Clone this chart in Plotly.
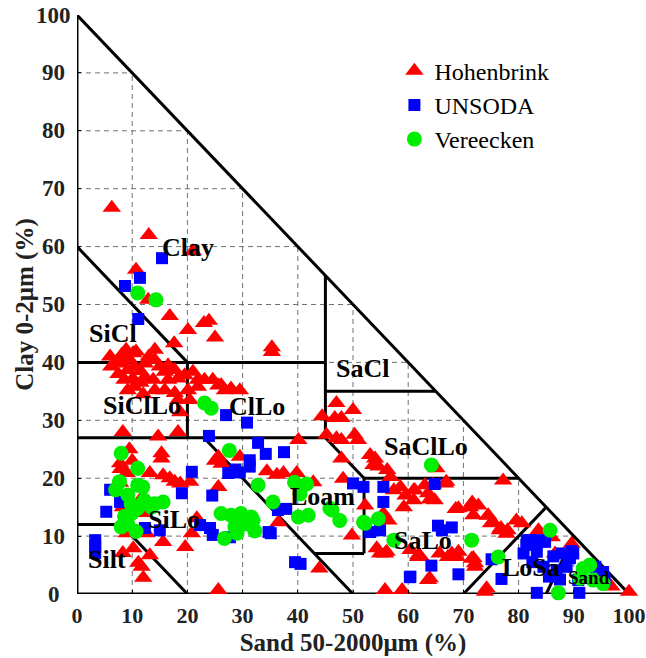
import plotly.graph_objects as go

# ---------------- data (sand %, clay %) ----------------
hoh_sand = [6.3, 13.0, 21.0, 10.7, 12.9, 16.8, 20.1, 23.0, 23.9, 25.0, 17.6, 35.3, 35.3,
            6.0, 7.0, 8.1, 8.9, 10.2, 10.7, 14.1, 6.2, 8.0, 9.2, 10.4, 12.3, 14.1, 15.0, 8.6, 10.1,
            12.3, 15.9, 17.7, 13.8, 16.5, 18.3, 19.5, 21.0, 21.9, 23.1, 24.6, 26.1, 27.9, 29.5,
            15.9, 17.7, 14.1, 10.4, 9.2, 18.3, 20.4, 20.1, 21.9, 11.5, 7.5, 9.5, 11.5, 13.0, 16.5,
            12.0, 25.6, 26.8,
            18.7, 18.3, 8.3, 14.7, 15.3, 15.3, 18.7, 20.5, 13.2, 15.6, 16.8, 17.7, 7.8, 7.9, 9.0,
            7.8, 6.9, 8.3, 11.4, 11.7, 12.6, 9.0, 8.3, 10.2, 11.1, 13.2, 11.7, 12.0, 15.6, 19.6,
            20.8, 21.7, 25.6, 25.6, 25.0, 26.2, 29.5, 25.6, 10.0, 9.5,
            47.0, 44.4, 46.7, 47.9, 50.0, 45.2, 47.0, 47.9, 50.3, 50.9, 40.1, 47.9, 53.1, 54.0,
            53.7, 54.6, 56.2, 48.2, 56.8, 58.6, 59.5, 61.0, 61.0, 57.4, 59.2, 34.4, 36.2, 37.4,
            39.8, 42.8, 52.2, 49.8, 56.4, 54.3, 55.8, 54.9, 43.9, 55.8, 58.9, 62.2, 60.4, 36.5,
            55.5, 56.1, 61.8, 63.6, 67.2, 68.8, 71.8, 72.1,
            65.1, 77.2, 66.9, 63.0, 61.2, 63.6, 64.8, 69.1, 71.2, 72.7, 71.8, 74.5, 75.4, 76.6,
            77.8, 79.6, 61.8, 65.7, 67.9, 69.1, 71.5, 72.1, 63.9, 74.2, 73.9, 64.5, 66.7, 63.9,
            68.6, 71.6, 74.4, 75.0, 76.8, 78.0,
            80.6, 83.6, 86.0, 86.6, 82.7, 100.0, 89.6, 94.7, 96.8, 85.1]
hoh_clay = [66.7, 62.0, 59.2, 56.0, 50.8, 48.0, 45.6, 46.8, 47.2, 44.3, 43.3, 42.6, 41.8,
            41.0, 40.0, 41.3, 42.2, 41.6, 41.9, 42.2, 39.3, 39.8, 38.7, 39.3, 39.8, 40.4, 39.3, 37.0, 37.2,
            37.5, 38.4, 38.7, 37.0, 37.0, 37.2, 37.8, 38.4, 37.0, 37.0, 37.0, 36.1, 35.5, 35.2,
            35.2, 34.7, 35.2, 35.8, 35.2, 33.5, 33.5, 35.2, 35.8, 36.5, 38.0, 40.5, 38.5, 41.0, 39.5,
            34.5, 36.0, 35.2,
            31.4, 28.0, 28.0, 27.2, 24.3, 23.4, 19.1, 19.4, 20.9, 20.5, 20.0, 19.4, 22.6, 21.6, 20.9,
            19.2, 18.5, 15.0, 16.2, 14.0, 10.5, 10.5, 7.1, 7.9, 5.4, 6.7, 4.7, 2.8, 9.0, 8.1,
            10.5, 13.1, 18.5, 23.7, 23.0, 22.5, 23.7, 0.7, 23.0, 25.0,
            33.0, 30.7, 30.4, 30.4, 31.8, 27.5, 26.9, 26.6, 27.5, 26.6, 26.6, 23.4, 24.0, 23.4,
            22.3, 22.0, 21.4, 19.9, 20.2, 18.5, 17.0, 17.9, 16.2, 17.9, 15.0, 21.2, 20.6, 20.9,
            20.9, 19.3, 15.3, 10.1, 12.7, 7.9, 7.0, 7.0, 4.4, 0.7, 0.7, 6.5, 7.6, 12.4,
            13.9, 7.3, 6.4, 2.4, 6.4, 6.4, 6.2, 4.7,
            21.7, 19.6, 19.4, 18.8, 17.9, 17.4, 16.2, 14.8, 15.0, 15.3, 13.6, 13.6, 12.4, 11.0,
            10.4, 12.7, 6.7, 7.0, 7.0, 7.3, 6.1, 5.3, 2.7, 1.0, 0.4, 18.9, 19.1, 16.3,
            14.7, 15.8, 13.5, 12.2, 11.4, 11.0,
            12.2, 11.0, 9.8, 7.0, 9.3, 0.4, 8.7, 2.4, 1.3, 9.9]

uns_sand = [15.4, 8.7, 11.4, 11.1, 27.0, 30.8, 23.9, 32.8, 34.2, 37.5, 27.4, 28.7, 31.3, 31.3,
            29.5, 20.8, 19.0, 24.5, 5.3, 6.0, 7.8, 3.3, 3.3, 3.3, 12.3, 15.0, 22.3, 24.1, 24.6,
            27.7, 35.1, 39.5, 40.5, 36.4, 37.9, 50.0, 51.9, 55.5, 55.5, 34.7, 54.9, 53.1, 60.4,
            64.8, 65.4, 67.9, 64.2, 69.1, 75.1, 76.9, 81.4, 81.5, 84.8, 80.9, 83.3, 86.3, 87.8,
            89.3, 89.6, 84.5, 86.9, 88.7, 90.8, 95.3, 95.6, 83.3, 93.9, 82.1, 83.9, 89.9, 91.0,
            85.5, 87.5, 82.5, 66.1, 60.3]
uns_clay = [58.0, 53.2, 54.6, 47.5, 30.9, 29.6, 27.3, 26.1, 24.2, 24.5, 20.9, 21.5, 22.0, 23.1,
            21.0, 21.1, 17.4, 17.0, 14.2, 18.0, 15.9, 9.3, 7.1, 8.2, 11.4, 11.0, 11.9, 11.4, 10.2,
            9.8, 10.5, 5.5, 5.2, 14.5, 14.7, 19.1, 18.5, 18.5, 15.9, 10.7, 11.0, 10.7, 3.0,
            19.0, 11.8, 11.5, 4.9, 3.4, 6.0, 2.6, 8.5, 9.3, 9.0, 7.0, 7.3, 6.5, 7.0,
            6.2, 7.4, 4.7, 4.1, 4.7, 2.4, 3.8, 2.4, 0.2, 4.7, 9.3, 9.3, 7.0, 0.2,
            3.0, 2.5, 5.5, 11.0, 2.9]

ver_sand = [11.0, 14.3, 23.1, 24.3, 8.0, 11.0, 7.7, 11.0, 9.2, 11.9, 9.8, 12.2, 14.1, 15.6,
            11.0, 8.6, 8.0, 10.7, 9.2, 13.5, 7.0, 10.0, 26.1, 27.9, 29.7, 31.6, 26.7, 28.6, 30.4,
            32.2, 29.0, 27.6, 32.8, 35.5, 39.4, 41.6, 40.4, 40.1, 41.9, 45.8, 47.6, 46.2, 51.9,
            54.6, 52.2, 57.4, 64.2, 71.5, 76.3, 85.7, 91.7, 92.9, 91.1, 93.5, 95.3, 87.2, 31.9]
ver_clay = [52.0, 50.8, 33.0, 32.1, 24.3, 21.7, 19.4, 18.8, 17.1, 18.5, 15.6, 16.2, 15.6, 15.9,
            14.8, 13.4, 11.6, 10.8, 12.1, 15.0, 18.0, 14.0, 13.9, 13.6, 13.9, 13.3, 9.6, 11.6, 12.1,
            10.9, 10.5, 24.8, 18.8, 15.9, 19.3, 19.0, 17.3, 13.3, 13.6, 14.8, 12.7, 14.5, 12.4,
            13.0, 12.2, 9.3, 22.3, 9.3, 6.4, 11.0, 4.4, 5.0, 2.7, 2.4, 1.8, 0.2, 12.7]

# texture class boundaries (sand, clay) segments
boundaries = [
    ((0, 0), (0, 100)), ((0, 0), (100, 0)), ((0, 100), (100, 0)),
    ((0, 60), (20, 40)), ((0, 40), (45, 40)), ((45, 55), (45, 27)), ((45, 35), (65, 35)),
    ((20, 40), (20, 27)), ((0, 27), (45, 27)), ((45, 27), (52, 20)), ((52, 20), (80, 20)),
    ((52, 20), (52, 7)), ((43, 7), (52, 7)), ((23, 27), (50, 0)), ((0, 12), (8, 12)),
    ((8, 12), (20, 0)), ((70, 0), (85, 15)), ((85, 0), (90, 10)),
]
class_names = ["Clay", "SiCl", "SiClLo", "ClLo", "SaCl", "SaClLo", "Loam", "SiLo", "Silt",
               "SaLo", "LoSa", "Sand"]
class_sand = [20.1, 6.6, 11.8, 32.6, 51.7, 63.3, 44.4, 17.6, 5.4, 62.7, 82.2, 92.8]
class_clay = [59.8, 45.0, 32.5, 32.3, 39.0, 25.4, 16.8, 12.8, 5.9, 9.3, 4.5, 2.8]
ticks = list(range(0, 101, 10))
tick_labels = [str(t) for t in ticks]

SERIF = "Liberation Serif"

fig = go.Figure()
fig.add_trace(go.Scatter(x=hoh_sand, y=hoh_clay, mode="markers", name="Hohenbrink",
                         marker=dict(symbol="triangle-up", size=16, color="#ff0000"),
                         cliponaxis=False))
fig.add_trace(go.Scatter(x=uns_sand, y=uns_clay, mode="markers", name="UNSODA",
                         marker=dict(symbol="square", size=12, color="#0000ff"),
                         cliponaxis=False))
fig.add_trace(go.Scatter(x=ver_sand, y=ver_clay, mode="markers", name="Vereecken",
                         marker=dict(symbol="circle", size=15, color="#00ee00"),
                         cliponaxis=False))

shapes = []
for v in ticks[1:-1]:
    shapes.append(dict(type="line", xref="x", yref="y", x0=v, y0=0, x1=v, y1=100 - v,
                       line=dict(color="#707070", width=1, dash="5px,4px"), layer="below"))
    shapes.append(dict(type="line", xref="x", yref="y", x0=0, y0=v, x1=100 - v, y1=v,
                       line=dict(color="#707070", width=1, dash="5px,4px"), layer="below"))
for (a, b) in boundaries:
    shapes.append(dict(type="line", xref="x", yref="y", x0=a[0], y0=a[1], x1=b[0], y1=b[1],
                       line=dict(color="black", width=3), layer="below"))

annotations = []
for name, sx, cy in zip(class_names, class_sand, class_clay):
    annotations.append(dict(x=sx, y=cy, xref="x", yref="y", text=name, showarrow=False,
                            font=dict(family=SERIF, size=19 if name == "Sand" else 26,
                                      color="black", weight="bold")))
# y tick labels, centred in a column left of the axis (as in the original)
for t, lab in zip(ticks, tick_labels):
    annotations.append(dict(x=-0.0417, y=t, xref="paper", yref="y", text=lab,
                            showarrow=False, xanchor="center", yanchor="middle",
                            font=dict(family=SERIF, size=23, color="#222", weight="bold")))

fig.update_layout(
    width=646, height=658, autosize=False,
    margin=dict(l=77, r=17, t=15, b=64),
    plot_bgcolor="white", paper_bgcolor="white",
    shapes=shapes, annotations=annotations,
    showlegend=True,
    legend=dict(x=0.575, y=0.942, xanchor="left", yanchor="top",
                font=dict(family=SERIF, size=24, color="black"),
                bgcolor="rgba(0,0,0,0)", borderwidth=0, itemsizing="trace"),
)
fig.update_xaxes(range=[0, 100], tickvals=ticks, ticktext=tick_labels, automargin=False,
                 showgrid=False, zeroline=False, showline=False,
                 ticks="inside", ticklen=4, tickcolor="black",
                 ticklabeloverflow="allow", ticklabelstandoff=6,
                 tickfont=dict(family=SERIF, size=22, color="#222", weight="bold"),
                 title=dict(text="Sand 50-2000μm (%)", standoff=6,
                            font=dict(family=SERIF, size=25, color="#222", weight="bold")))
fig.update_yaxes(range=[0, 100], tickvals=ticks, showticklabels=False,
                 automargin=False,
                 showgrid=False, zeroline=False, showline=False,
                 ticks="inside", ticklen=4, tickcolor="black",
                 title=dict(text="Clay 0-2μm (%)", standoff=35,
                            font=dict(family=SERIF, size=25, color="#222", weight="bold")))

fig.write_html("out.html")
